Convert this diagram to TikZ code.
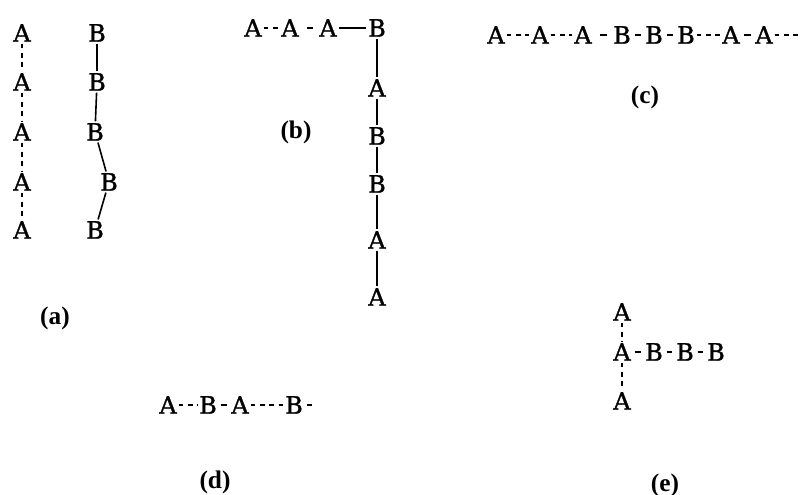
\documentclass[tikz,border=0pt]{standalone}
\usepackage{fontspec}
\setmainfont{Liberation Serif}
\newfontfamily\atomfont[FakeBold=1.2]{DejaVu Serif}
\begin{document}
\begin{tikzpicture}[x=0.75pt,y=-0.75pt,
 atom/.style={font=\atomfont\fontsize{18}{18}\selectfont, inner sep=1.2pt},
 lab/.style={font=\fontsize{19}{19}\selectfont\bfseries, inner sep=0pt},
 sb/.style={line width=1.2pt},
 db/.style={line width=1.6pt, dash pattern=on 3.6pt off 3.4pt},
 onedash/.style={line width=1.6pt, shorten <=1.5pt, shorten >=1.5pt},
 shortdash/.style={line width=1.6pt, shorten <=4.5pt, shorten >=3.5pt}]
\useasboundingbox (0,0) rectangle (803,495);
% (a)
\node[atom] (aa1) at (22,33) {A};
\node[atom] (aa2) at (22,82) {A};
\node[atom] (aa3) at (22,132) {A};
\node[atom] (aa4) at (22,182) {A};
\node[atom] (aa5) at (22,230) {A};
\draw[db] (aa1) -- (aa2); \draw[db] (aa2) -- (aa3); \draw[db] (aa3) -- (aa4); \draw[db] (aa4) -- (aa5);
\node[atom] (ab1) at (97,33) {B};
\node[atom] (ab2) at (97,82) {B};
\node[atom] (ab3) at (95,132) {B};
\node[atom] (ab4) at (109,182) {B};
\node[atom] (ab5) at (95,230) {B};
\draw[sb] (ab1) -- (ab2); \draw[sb] (ab2) -- (ab3); \draw[sb] (ab3) -- (ab4); \draw[sb] (ab4) -- (ab5);
\node[lab] (la) at (55,318) {(a)};
% (b)
\node[atom] (ba1) at (253,28) {A};
\node[atom] (ba2) at (290,28) {A};
\node[atom] (ba3) at (328,28) {A};
\node[atom] (bb1) at (377,28) {B};
\draw[db] (ba1) -- (ba2); \draw[shortdash] (ba2) -- (ba3); \draw[sb] (ba3) -- (bb1);
\node[atom] (bc1) at (377,88) {A};
\node[atom] (bc2) at (377,136) {B};
\node[atom] (bc3) at (377,184) {B};
\node[atom] (bc4) at (377,240) {A};
\node[atom] (bc5) at (377,297) {A};
\draw[sb] (bb1) -- (bc1); \draw[sb] (bc1) -- (bc2); \draw[sb] (bc2) -- (bc3); \draw[sb] (bc3) -- (bc4); \draw[sb] (bc4) -- (bc5);
\node[lab] (lb) at (296,132) {(b)};
% (c)
\node[atom] (c1) at (496,35) {A};
\node[atom] (c2) at (540,35) {A};
\node[atom] (c3) at (583,35) {A};
\node[atom] (c4) at (622,35) {B};
\node[atom] (c5) at (654,35) {B};
\node[atom] (c6) at (686,35) {B};
\node[atom] (c7) at (731,35) {A};
\node[atom] (c8) at (764,35) {A};
\coordinate (cend) at (800,35);
\draw[db] (c1) -- (c2); \draw[db] (c2) -- (c3); \draw[shortdash] (c3) -- (c4);
\draw[onedash] (c4) -- (c5); \draw[onedash] (c5) -- (c6); \draw[db] (c6) -- (c7);
\draw[onedash] (c7) -- (c8); \draw[db] (c8) -- (cend);
\node[lab] (lc) at (645,97) {(c)};
% (d)
\node[atom] (d1) at (168,405) {A};
\node[atom] (d2) at (208,405) {B};
\node[atom] (d3) at (240,405) {A};
\node[atom] (d4) at (294,405) {B};
\coordinate (dend) at (314,405);
\draw[db] (d1) -- (d2); \draw[onedash] (d2) -- (d3); \draw[db] (d3) -- (d4); \draw[onedash] (d4) -- (dend);
\node[lab] (ld) at (215,482) {(d)};
% (e)
\node[atom] (e1) at (622,312) {A};
\node[atom] (e2) at (622,352) {A};
\node[atom] (e3) at (622,401) {A};
\node[atom] (e4) at (654,352) {B};
\node[atom] (e5) at (685,352) {B};
\node[atom] (e6) at (716,352) {B};
\draw[db] (e1) -- (e2); \draw[db] (e2) -- (e3);
\draw[onedash] (e2) -- (e4); \draw[onedash] (e4) -- (e5); \draw[onedash] (e5) -- (e6);
\node[lab] (le) at (665,485) {(e)};
\end{tikzpicture}
\end{document}
